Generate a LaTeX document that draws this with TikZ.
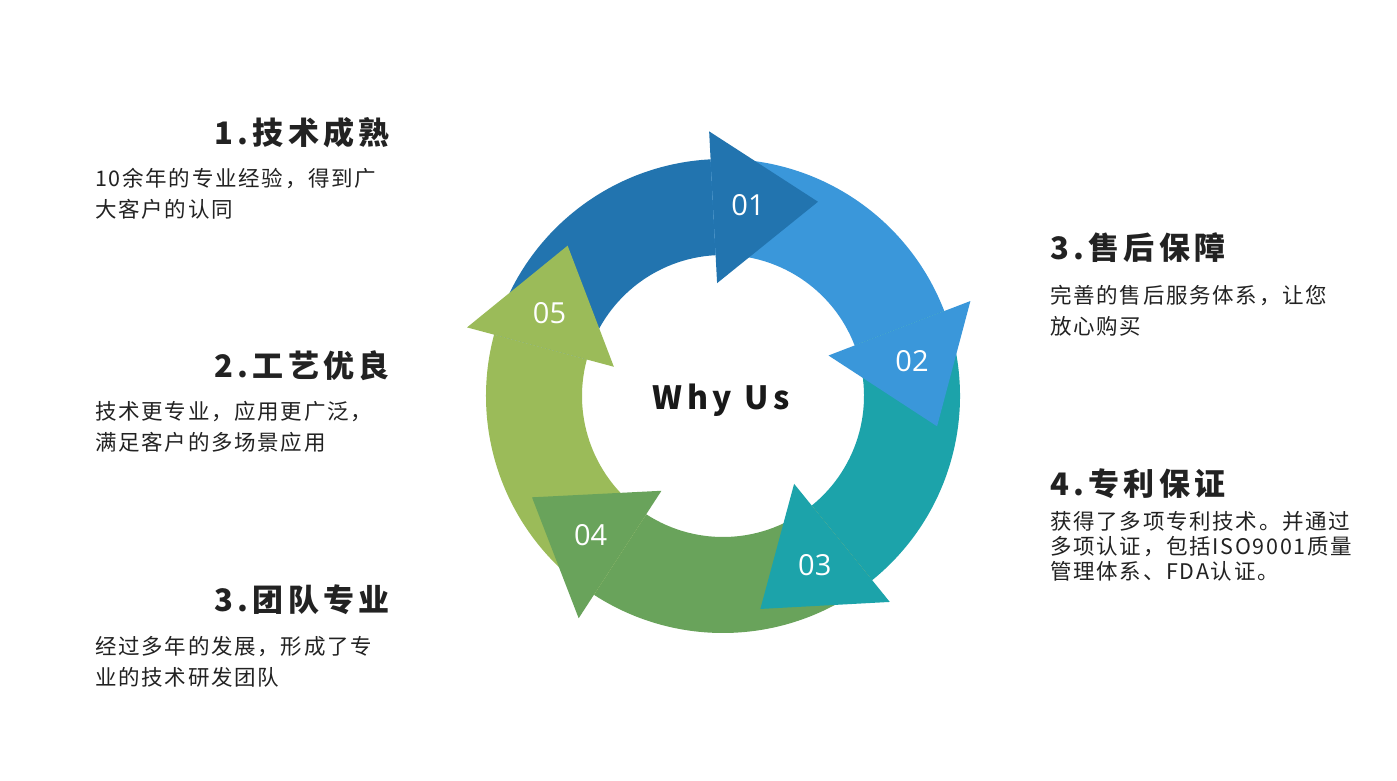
\documentclass[tikz,border=0pt]{standalone}
\usepackage{fontspec}
\usepackage{tikz}
\usetikzlibrary{calc, positioning}

\setmainfont{Open Sans}
\newfontfamily\cjk[LetterSpace=8]{Noto Sans CJK SC}
\newfontfamily\cjktitle[LetterSpace=14]{Noto Sans CJK SC}
\newfontfamily\cjkwide[LetterSpace=15]{Noto Sans CJK SC}

\definecolor{col01}{HTML}{2274AF}
\definecolor{col02}{HTML}{3A97DA}
\definecolor{col03}{HTML}{1CA3AA}
\definecolor{col04}{HTML}{69A35B}
\definecolor{col05}{HTML}{9BBB59}
\definecolor{textgray}{HTML}{222222}

\begin{document}
\begin{tikzpicture}[x=1pt, y=1pt,
	ttl/.style={font=\cjktitle\bfseries\fontsize{31}{31}\selectfont, text=textgray, inner sep=0pt},
	txt/.style={font=\cjk\fontsize{21.5}{31}\selectfont, text=textgray, inner sep=0pt, align=left},
	numtxt/.style={font=\fontsize{29}{29}\selectfont, text=white, inner sep=0pt}]

		\fill[white] (0,0) rectangle (1397,780);
		\useasboundingbox (0,0) rectangle (1397,780);
		\coordinate (c) at (723,384);

		% anillo: radio exterior 237, interior 141
		\fill[col01] ($(c)+(165:237pt)$) arc[start angle=165, end angle=93, radius=237pt] -- ($(c)+(93:141pt)$) arc[start angle=93, end angle=165, radius=141pt] -- cycle;
		\fill[col02] ($(c)+(93:237pt)$) arc[start angle=93, end angle=21, radius=237pt] -- ($(c)+(21:141pt)$) arc[start angle=21, end angle=93, radius=141pt] -- cycle;
		\fill[col03] ($(c)+(21:237pt)$) arc[start angle=21, end angle=-51, radius=237pt] -- ($(c)+(-51:141pt)$) arc[start angle=-51, end angle=21, radius=141pt] -- cycle;
		\fill[col04] ($(c)+(-51:237pt)$) arc[start angle=-51, end angle=-123, radius=237pt] -- ($(c)+(-123:141pt)$) arc[start angle=-123, end angle=-51, radius=141pt] -- cycle;
		\fill[col05] ($(c)+(-123:237pt)$) arc[start angle=-123, end angle=-195, radius=237pt] -- ($(c)+(-195:141pt)$) arc[start angle=-195, end angle=-123, radius=141pt] -- cycle;

		% puntas de flecha
		\fill[col01] ($(c)+(93:265pt)$) -- ($(c)+(93:113pt)$) -- ($(c)+(93:189pt)+(3:105pt)$) -- cycle;
		\fill[col02] ($(c)+(21:265pt)$) -- ($(c)+(21:113pt)$) -- ($(c)+(21:189pt)+(-69:105pt)$) -- cycle;
		\fill[col03] ($(c)+(-51:265pt)$) -- ($(c)+(-51:113pt)$) -- ($(c)+(-51:189pt)+(-141:105pt)$) -- cycle;
		\fill[col04] ($(c)+(-123:265pt)$) -- ($(c)+(-123:113pt)$) -- ($(c)+(-123:189pt)+(-213:105pt)$) -- cycle;
		\fill[col05] ($(c)+(165:265pt)$) -- ($(c)+(165:113pt)$) -- ($(c)+(165:189pt)+(75:105pt)$) -- cycle;

		\node[numtxt] (n01) at ($(c)+(93:189pt)+(3:35pt)$) {01};
		\node[numtxt] (n02) at ($(c)+(21:189pt)+(-69:35pt)$) {02};
		\node[numtxt] (n03) at ($(c)+(-51:189pt)+(-141:35pt)$) {03};
		\node[numtxt] (n04) at ($(c)+(-123:189pt)+(-213:35pt)$) {04};
		\node[numtxt] (n05) at ($(c)+(165:189pt)+(75:35pt)$) {05};

		\node[anchor=base, font=\cjkwide\bfseries\fontsize{32}{32}\selectfont, text=black!90, inner sep=0pt] (why) at (721,370) {Why Us};

		% textos de la izquierda
		\node[ttl, anchor=east] (t1) at (390,647) {1.技术成熟};
		\node[txt, anchor=north west] (d1) at (95,612) {10余年的专业经验，得到广\\大客户的认同};
		\node[ttl, anchor=east] (t2) at (390,414) {2.工艺优良};
		\node[txt, anchor=north west] (d2) at (95,379) {技术更专业，应用更广泛，\\满足客户的多场景应用};
		\node[ttl, anchor=east] (t3) at (390,180) {3.团队专业};
		\node[txt, anchor=north west] (d3) at (95,144) {经过多年的发展，形成了专\\业的技术研发团队};

		% textos de la derecha
		\node[ttl, anchor=west] (t4) at (1050,532) {3.售后保障};
		\node[txt, anchor=north west] (d4) at (1050,495) {完善的售后服务体系，让您\\放心购买};
		\node[ttl, anchor=west] (t5) at (1050,296) {4.专利保证};
		\node[txt, anchor=north west, font=\cjk\fontsize{21.5}{25}\selectfont] (d5) at (1050,269) {获得了多项专利技术。并通过\\多项认证，包括ISO9001质量\\管理体系、FDA认证。};
	\end{tikzpicture}
\end{document}
